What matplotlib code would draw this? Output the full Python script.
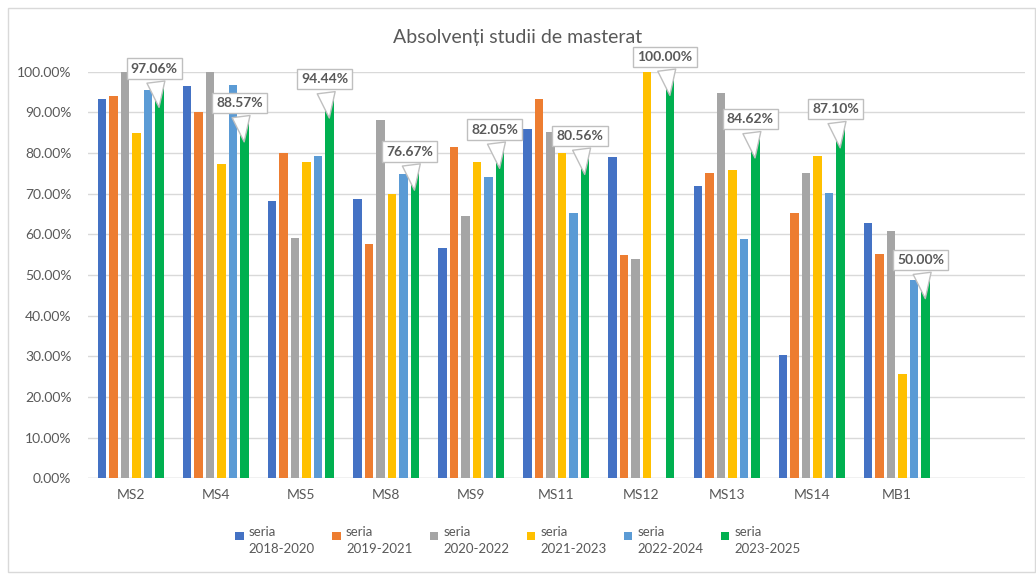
import numpy as np
import matplotlib.pyplot as plt
from matplotlib.patches import Rectangle
from matplotlib.legend_handler import HandlerPatch
from matplotlib.container import BarContainer

plt.rcParams['font.family'] = ['Lato', 'DejaVu Sans']

categories = ["MS2", "MS4", "MS5", "MS8", "MS9", "MS11", "MS12", "MS13", "MS14", "MB1"]
series_names = ["seria\n2018-2020", "seria\n2019-2021", "seria\n2020-2022",
                "seria\n2021-2023", "seria\n2022-2024", "seria\n2023-2025"]

s2018 = [93.2, 96.5, 68.1, 68.6, 56.6, 86.0, 79.0, 71.9, 30.3, 62.9]
s2019 = [94.1, 90.0, 80.0, 57.5, 81.4, 93.3, 54.8, 75.0, 65.3, 55.1]
s2020 = [100.0, 100.0, 59.2, 88.2, 64.5, 85.1, 53.9, 94.7, 75.0, 60.8]
s2021 = [84.9, 77.3, 77.7, 69.9, 77.7, 80.0, 100.0, 75.9, 79.2, 25.6]
s2022 = [95.6, 96.8, 79.2, 74.9, 74.2, 65.3, np.nan, 58.9, 70.1, 48.8]
s2023 = [97.06, 88.57, 94.44, 76.67, 82.05, 80.56, 100.00, 84.62, 87.10, 50.00]

colors = ["#4472C4", "#ED7D31", "#A5A5A5", "#FFC000", "#5B9BD5", "#00B050"]
all_series = [s2018, s2019, s2020, s2021, s2022, s2023]

fig = plt.figure(figsize=(10.36, 5.74), dpi=100)
ax = fig.add_axes([0.085, 0.167, 0.904, 0.708])

x = np.arange(len(categories))
step = 0.135
width = 0.1
for i, (vals, c, name) in enumerate(zip(all_series, colors, series_names)):
    ax.bar(x + (i - 2.5) * step, np.array(vals) / 100, width, color=c, label=name, zorder=3)

# callouts on the last series
for xi, v in zip(x, s2023):
    xb = xi + 2.5 * step
    ax.annotate(f"{v:.2f}%", xy=(xb, v / 100 - 0.065), xytext=(xb - 0.06, v / 100 + 0.037),
                ha="center", va="center", fontsize=10, fontweight="bold", color="#595959",
                bbox=dict(boxstyle="square,pad=0.3", fc="white", ec="#BFBFBF", lw=1),
                arrowprops=dict(arrowstyle="wedge,tail_width=1.3,shrink_factor=0.5",
                                fc="white", ec="#BFBFBF", lw=1),
                annotation_clip=False, zorder=5)

ax.set_xlim(-0.5, 10.5)
ax.set_ylim(0, 1.0)
ax.set_yticks(np.arange(0, 1.01, 0.1))
ax.set_yticklabels([f"{t*100:.2f}%" for t in np.arange(0, 1.01, 0.1)])
ax.set_xticks(x)
ax.set_xticklabels(categories)
ax.tick_params(axis="both", length=0, labelsize=10, labelcolor="#595959")
ax.tick_params(axis="y", pad=12)
ax.tick_params(axis="x", pad=8)
ax.grid(axis="y", color="#D9D9D9", lw=1, zorder=0)
for sp in ax.spines.values():
    sp.set_visible(False)
ax.axhline(0, color="#D9D9D9", lw=1, zorder=2)

fig.text(0.5, 0.935, "Absolvenți studii de masterat", ha="center", va="center",
         fontsize=14, color="#595959")


def top_square(legend, orig_handle, xdescent, ydescent, width, height, fontsize):
    s = fontsize * 0.65
    return Rectangle((-xdescent, -ydescent + height - s - 1), s, s)


def copy_color(legend_handle, orig_handle):
    legend_handle.update_from(orig_handle.patches[0])


leg = fig.legend(loc="center", bbox_to_anchor=(0.5, 0.058), ncol=6, frameon=False,
                 fontsize=9.5, handlelength=0.65, handleheight=2.3, handletextpad=0.4,
                 columnspacing=1.3,
                 handler_map={BarContainer: HandlerPatch(patch_func=top_square,
                                                         update_func=copy_color)})
for t in leg.get_texts():
    t.set_color("#595959")
    t.set_linespacing(1.45)

fig.patches.append(Rectangle((8 / 1036, 2 / 574), 1 - 9 / 1036, 1 - 10 / 574,
                             transform=fig.transFigure, fill=False, ec="#D9D9D9", lw=1))

fig.savefig("out.png", dpi=100)
